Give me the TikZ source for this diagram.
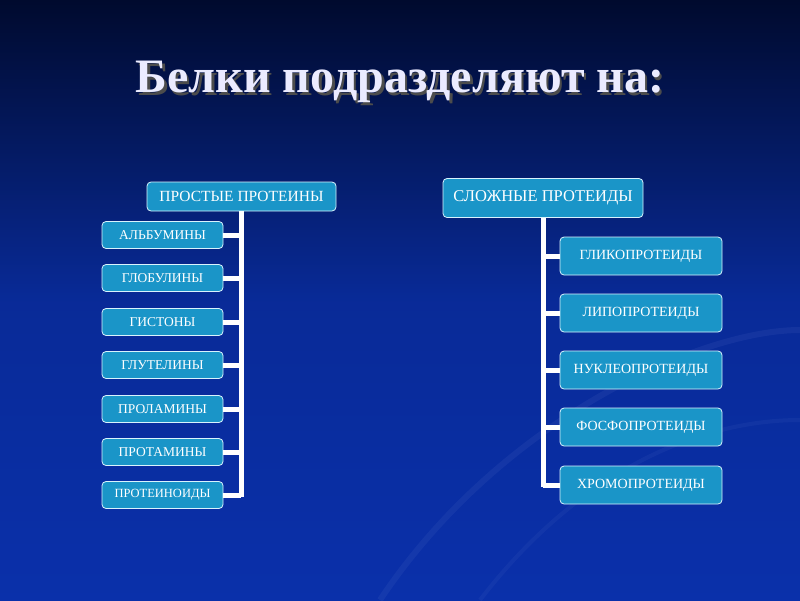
\documentclass[tikz,border=0pt]{standalone}
\usepackage{fontspec}
\setmainfont{Liberation Serif}
\begin{document}
\begin{tikzpicture}[x=1pt,y=-1pt,
  box/.style={draw=white!85!cyan,line width=0.8pt,fill=boxc,rounded corners=4pt,text=white,inner sep=0pt,align=center},
  conn/.style={white,line width=5pt}]
\definecolor{boxc}{HTML}{1A95C8}
\definecolor{bgtop}{HTML}{000A2E}
\definecolor{bgbot}{HTML}{0A30AA}
\shade[top color=bgtop,bottom color=bgbot,middle color=bgbot!85!bgtop] (0,0) rectangle (800,600);
\useasboundingbox (0,0) rectangle (800,600);
\draw[bgbot!70!white,opacity=0.15,line width=6pt] (380,600) .. controls (500,420) and (700,330) .. (800,330);
\draw[bgbot!70!white,opacity=0.12,line width=4pt] (480,600) .. controls (580,470) and (700,420) .. (800,420);
\node[text=black!70,font=\fontsize{48}{52}\bfseries\selectfont] (shadow) at (402.5,84.5) {Белки подразделяют на:};
\node[text=white!92!blue,font=\fontsize{48}{52}\bfseries\selectfont] (title) at (400,82) {Белки подразделяют на:};
% left
\node[box,minimum width=189pt,minimum height=29pt,font=\fontsize{15.5}{17}\selectfont] (L) at (241.5,196.5) {ПРОСТЫЕ ПРОТЕИНЫ};
\coordinate (Lb) at (241,497);
\draw[conn] (L.south -| Lb) -- (Lb);
\foreach \n/\t/\y/\fs in {l1/АЛЬБУМИНЫ/235/13.5,l2/ГЛОБУЛИНЫ/278/13.5,l3/ГИСТОНЫ/322/13.5,l4/ГЛУТЕЛИНЫ/365/13.5,l5/ПРОЛАМИНЫ/409/13.5,l6/ПРОТАМИНЫ/452/13.5,l7/ПРОТЕИНОИДЫ/495/12.5}{
  \node[box,minimum width=121pt,minimum height=27pt,font=\fontsize{\fs}{15}\selectfont] (\n) at (162.5,\y) {\t};
  \draw[conn] (\n.east) -- (\n.east -| Lb);
}
% right
\node[box,minimum width=200pt,minimum height=39pt,font=\fontsize{16.5}{18}\selectfont] (R) at (543,198) {СЛОЖНЫЕ ПРОТЕИДЫ};
\coordinate (Rb) at (543,487);
\draw[conn] (R.south) -- (Rb);
\foreach \n/\t/\y in {r1/ГЛИКОПРОТЕИДЫ/256,r2/ЛИПОПРОТЕИДЫ/313,r3/НУКЛЕОПРОТЕИДЫ/370,r4/ФОСФОПРОТЕИДЫ/427,r5/ХРОМОПРОТЕИДЫ/485}{
  \node[box,minimum width=162pt,minimum height=38pt,font=\fontsize{14}{16}\selectfont] (\n) at (641,\y) {\t};
  \draw[conn] (\n.west) -- (\n.west -| Rb);
}
\end{tikzpicture}
\end{document}
